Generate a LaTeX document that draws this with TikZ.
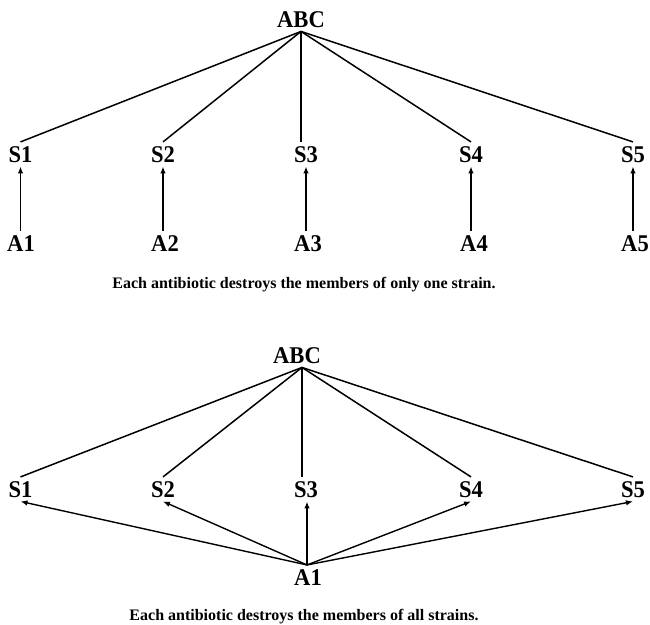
\documentclass[tikz,border=0pt]{standalone}
\usepackage{fontspec}
\setmainfont{Liberation Serif}
\newfontfamily\lblfont{Liberation Serif}[FakeStretch=0.94]
\usetikzlibrary{arrows.meta}
\begin{document}
\begin{tikzpicture}[x=1pt,y=-1pt,
  lbl/.style={font=\lblfont\bfseries\fontsize{24}{26}\selectfont, inner sep=4pt, anchor=base},
  captext/.style={font=\bfseries\fontsize{16}{18}\selectfont, inner sep=0pt, anchor=base},
  edge/.style={line width=1.5pt},
  arr/.style={line width=1.4pt, -{Latex[length=7pt,width=5.5pt]}}]
\useasboundingbox (0,0) rectangle (650,624);
% ---------- top diagram ----------
\node[lbl] (T) at (301,27) {ABC};
\foreach \i/\x in {1/20.5,2/163,3/306,4/471,5/633}{
  \node[lbl] (TS\i) at (\x,162) {S\i};
}
\foreach \i/\x in {1/21,2/165,3/308,4/474,5/635}{
  \node[lbl] (TA\i) at (\x,251) {A\i};
}
\foreach \i in {1,2,4,5}{
  \draw[edge] (T.south) -- (TS\i.north);
}
\draw[edge] (T.south) -- (T.south |- TS3.north);
\foreach \i in {1,...,5}{
  \draw[arr] (TS\i.south |- TA\i.north) -- (TS\i.south);
}
\node[captext] (C1) at (304,288.5) {Each antibiotic destroys the members of only one strain.};
% ---------- bottom diagram ----------
\node[lbl] (B) at (297,363) {ABC};
\coordinate (Bt) at ([xshift=5pt]B.south);
\foreach \i/\x in {1/20.5,2/163,3/306,4/471,5/633}{
  \node[lbl] (BS\i) at (\x,497) {S\i};
}
\node[lbl] (BA) at (308,585) {A1};
\foreach \i in {1,2,4,5}{
  \draw[edge] (Bt) -- (BS\i.north);
}
\draw[edge] (Bt) -- (Bt |- BS3.north);
\foreach \i in {1,2,4,5}{
  \draw[arr] ([xshift=-1pt]BA.north) -- (BS\i.south);
}
\draw[arr] ([xshift=-1pt]BA.north) -- ([xshift=-1pt]BA.north |- BS3.south);
\node[captext] (C2) at (304,620) {Each antibiotic destroys the members of all strains.};
\end{tikzpicture}
\end{document}
